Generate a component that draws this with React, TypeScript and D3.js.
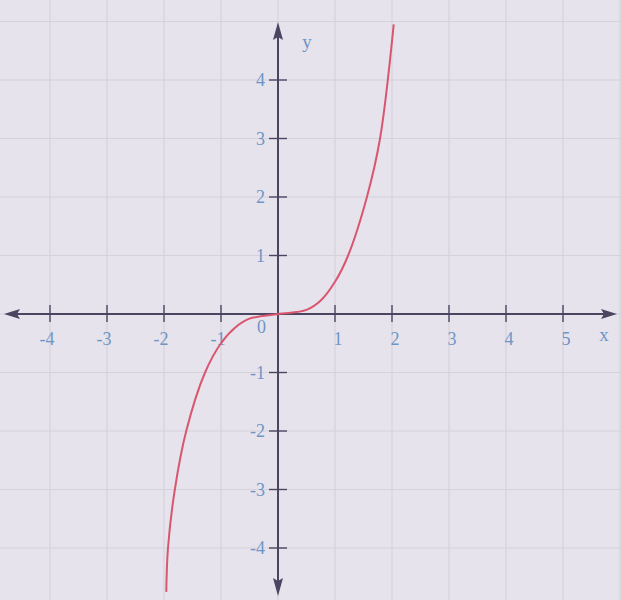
import React from 'react';
import * as d3 from 'd3';

// points (data units)
const curveX = [-1.96, -1.93, -1.81, -1.61, -1.28, -1, -0.75, -0.5, 0, 0.5, 0.75, 1, 1.23, 1.56, 1.79, 2.03];
const curveY = [-4.75, -4, -3, -2, -1, -0.5, -0.23, -0.08, 0, 0.07, 0.23, 0.55, 1, 2, 3, 4.95];

const xTicks = [-4, -3, -2, -1, 1, 2, 3, 4, 5];
const yTicks = [-4, -3, -2, -1, 1, 2, 3, 4];
const gridX = [-5, -4, -3, -2, -1, 0, 1, 2, 3, 4, 5, 6];
const gridY = [-5, -4, -3, -2, -1, 0, 1, 2, 3, 4, 5];

const W = 621;
const H = 600;

const App = () => {
  const x = d3.scaleLinear().domain([-4, 5]).range([50, 563]);
  const y = d3.scaleLinear().domain([-4, 4]).range([548, 80]);

  const pts: [number, number][] = curveX.map((d, i) => [d, curveY[i]]);
  const line = d3.line<[number, number]>()
    .x((d) => x(d[0]))
    .y((d) => y(d[1]))
    .curve(d3.curveCatmullRom.alpha(0.5));

  const x0 = x(0);
  const y0 = y(0);
  const axisCol = '#4a4560';
  const labelCol = '#6e95c6';
  const font = '"Liberation Serif", "DejaVu Serif", serif';

  return (
    <svg width={W} height={H} style={{ position: 'absolute', left: 0, top: 0 }}>
      <rect width={W} height={H} fill="#e7e3ec" />
      {/* grid */}
      {gridX.map((g) => (
        <line key={'gx' + g} x1={x(g)} x2={x(g)} y1={0} y2={H} stroke="#d6d2dc" strokeWidth={1.2} />
      ))}
      {gridY.map((g) => (
        <line key={'gy' + g} x1={0} x2={W} y1={y(g)} y2={y(g)} stroke="#d6d2dc" strokeWidth={1.2} />
      ))}

      {/* axes */}
      <line x1={14} x2={606} y1={y0} y2={y0} stroke={axisCol} strokeWidth={2} />
      <line x1={x0} x2={x0} y1={34} y2={584} stroke={axisCol} strokeWidth={2} />
      <path d={`M4,${y0} L20,${y0 - 5} L17,${y0} L20,${y0 + 5} Z`} fill={axisCol} />
      <path d={`M617,${y0} L601,${y0 - 5} L604,${y0} L601,${y0 + 5} Z`} fill={axisCol} />
      <path d={`M${x0},22 L${x0 - 5},40 L${x0},37 L${x0 + 5},40 Z`} fill={axisCol} />
      <path d={`M${x0},596 L${x0 - 5},578 L${x0},581 L${x0 + 5},578 Z`} fill={axisCol} />

      {/* ticks */}
      {xTicks.map((t) => (
        <g key={'xt' + t}>
          <line x1={x(t)} x2={x(t)} y1={y0 - 9} y2={y0 + 8} stroke={axisCol} strokeWidth={1.4} />
          <text x={x(t) + (t < 0 ? -3 : 3)} y={y0 + 31} textAnchor="middle" fontFamily={font}
            fontSize={18} fill={labelCol}>{t}</text>
        </g>
      ))}
      {yTicks.map((t) => (
        <g key={'yt' + t}>
          <line x1={x0 - 9} x2={x0 + 9} y1={y(t)} y2={y(t)} stroke={axisCol} strokeWidth={1.4} />
          <text x={x0 - 13} y={y(t) + 6} textAnchor="end" fontFamily={font}
            fontSize={18} fill={labelCol}>{t}</text>
        </g>
      ))}
      <text x={x0 - 12} y={y0 + 19} textAnchor="end" fontFamily={font} fontSize={18} fill={labelCol}>0</text>
      <text x={x0 + 29} y={48} textAnchor="middle" fontFamily={font} fontSize={19} fill={labelCol}>y</text>
      <text x={604} y={y0 + 27} textAnchor="middle" fontFamily={font} fontSize={19} fill={labelCol}>x</text>

      {/* curve */}
      <path d={line(pts) || ''} fill="none" stroke="#d9566f" strokeWidth={2} />
    </svg>
  );
};

export default App;
